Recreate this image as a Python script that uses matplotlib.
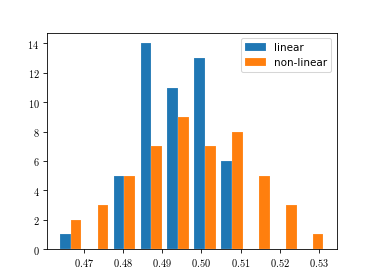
import numpy as np
import matplotlib
matplotlib.use('Agg')
from matplotlib import pyplot as plt
from matplotlib.ticker import FuncFormatter

plt.rcParams['mathtext.fontset'] = 'cm'

# histogram bins (10 bins)
bin_edges = np.linspace(0.4632, 0.5318, 11)
bin_centers = 0.5 * (bin_edges[:-1] + bin_edges[1:])

linear_counts = [1, 0, 5, 14, 11, 13, 6, 0, 0, 0]
nonlinear_counts = [2, 3, 5, 7, 9, 7, 8, 5, 3, 1]
labels = ['linear', 'non-linear']

fig, ax = plt.subplots(figsize=(5, 3.75), dpi=374 / 5)

ax.hist([bin_centers, bin_centers], bins=bin_edges,
        weights=[linear_counts, nonlinear_counts],
        color=['#1f77b4', '#ff7f0e'], label=labels,
        edgecolor=(1, 1, 1, 0.5), linewidth=0.3)

ax.set_xticks([0.47, 0.48, 0.49, 0.50, 0.51, 0.52, 0.53])
ax.xaxis.set_major_formatter(FuncFormatter(lambda v, p: '${:.2f}$'.format(v)))
ax.yaxis.set_major_formatter(FuncFormatter(lambda v, p: '${:d}$'.format(int(round(v)))))
ax.legend(loc='upper right')

fig.savefig('out.png', dpi=374 / 5)
